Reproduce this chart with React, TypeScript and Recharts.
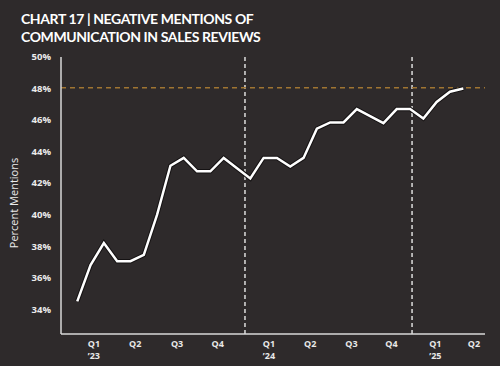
import { LineChart, Line, XAxis, YAxis, ReferenceLine } from 'recharts';

// monthly, Jan 2023 - Jun 2025
const months = [
    'Jan 23', 'Feb 23', 'Mar 23', 'Apr 23', 'May 23', 'Jun 23', 'Jul 23', 'Aug 23', 'Sep 23', 'Oct 23', 'Nov 23', 'Dec 23',
    'Jan 24', 'Feb 24', 'Mar 24', 'Apr 24', 'May 24', 'Jun 24', 'Jul 24', 'Aug 24', 'Sep 24', 'Oct 24', 'Nov 24', 'Dec 24',
    'Jan 25', 'Feb 25', 'Mar 25', 'Apr 25', 'May 25', 'Jun 25',
];
const negativeMentions = [
    34.5, 36.8, 38.2, 37.05, 37.05, 37.45, 40.0, 43.1, 43.6, 42.75, 42.75, 43.6,
    42.95, 42.3, 43.6, 43.6, 43.05, 43.6, 45.45, 45.85, 45.85, 46.7, 46.25, 45.8,
    46.7, 46.7, 46.1, 47.15, 47.8, 48.0,
];

const quarterLabels = ['Q1', 'Q2', 'Q3', 'Q4', 'Q1', 'Q2', 'Q3', 'Q4', 'Q1', 'Q2'];
const yearLabels = ['’23', '', '', '', '’24', '', '', '', '’25', ''];
// where each quarter label sits, in month-index units
const quarterTickPos = [1.25, 4.35, 7.5, 10.55, 14.4, 17.5, 20.6, 23.6, 26.9, 29.8];
const yearBreaks = [12.6, 25.15];
const yTicks = [34, 36, 38, 40, 42, 44, 46, 48, 50];
const latestLevel = 48.05;

const data = months.map((m, i) => ({ idx: i, month: m, value: negativeMentions[i] }));

const BG = '#2e2a2b';
const FONT = '"Open Sans", sans-serif';

const QuarterTick = (props: any) => {
    const { x, y, payload } = props;
    const i = quarterTickPos.indexOf(payload.value);
    return (
        <g transform={`translate(${x},${y})`}>
            <text x={0} y={11} textAnchor="middle" fill="#e8e8e8" fontSize={9} fontWeight={700} fontFamily={FONT}>
                {quarterLabels[i]}
            </text>
            {yearLabels[i] && (
                <text x={0} y={23} textAnchor="middle" fill="#e8e8e8" fontSize={9} fontWeight={700} fontFamily={FONT}>
                    {yearLabels[i]}
                </text>
            )}
        </g>
    );
};

export default function App() {
    return (
        <div style={{ position: 'absolute', left: 0, top: 0, width: 500, height: 366, background: BG, overflow: 'hidden' }}>
            <div
                style={{
                    position: 'absolute',
                    left: 21,
                    top: 10,
                    color: '#ffffff',
                    fontFamily: 'Lato, sans-serif',
                    fontSize: 14,
                    fontWeight: 700,
                    lineHeight: '18px',
                    letterSpacing: '-0.4px',
                }}
            >
                CHART 17 | NEGATIVE MENTIONS OF
                <br />
                COMMUNICATION IN SALES REVIEWS
            </div>

            <div
                style={{
                    position: 'absolute',
                    left: 13,
                    top: 203,
                    transform: 'translate(-50%, -50%) rotate(-90deg)',
                    color: '#ececec',
                    fontFamily: FONT,
                    fontSize: 11,
                    whiteSpace: 'nowrap',
                }}
            >
                Percent Mentions
            </div>

            <LineChart
                width={500}
                height={366}
                data={data}
                margin={{ top: 57, right: 15, bottom: 0, left: 11 }}
                style={{ position: 'absolute', left: 0, top: 0 }}
            >
                <XAxis
                    dataKey="idx"
                    type="number"
                    domain={[-1.22, 30.63]}
                    ticks={quarterTickPos}
                    interval={0}
                    height={32}
                    tickLine={false}
                    tickSize={0}
                    tick={<QuarterTick />}
                    axisLine={{ stroke: '#d8d8d8', strokeWidth: 1.5 }}
                    allowDataOverflow
                />
                <YAxis
                    type="number"
                    domain={[32.43, 50]}
                    ticks={yTicks}
                    width={50}
                    tickLine={false}
                    tickSize={0}
                    tickMargin={10}
                    tickFormatter={(v: number) => `${v}%`}
                    tick={{ fill: '#ececec', fontSize: 9.5, fontWeight: 700, fontFamily: FONT }}
                    axisLine={{ stroke: '#d8d8d8', strokeWidth: 1.5 }}
                    allowDataOverflow
                />
                {yearBreaks.map((x) => (
                    <ReferenceLine key={x} x={x} stroke="#dddddd" strokeWidth={1.5} strokeDasharray="4 3" />
                ))}
                <ReferenceLine y={latestLevel} stroke="#a07532" strokeWidth={1.5} strokeDasharray="5 4" />
                <Line
                    type="linear"
                    dataKey="value"
                    stroke="#151213"
                    strokeWidth={4.5}
                    dot={false}
                    activeDot={false}
                    isAnimationActive={false}
                />
                <Line
                    type="linear"
                    dataKey="value"
                    stroke="#ffffff"
                    strokeWidth={2.5}
                    dot={false}
                    activeDot={false}
                    isAnimationActive={false}
                />
            </LineChart>
        </div>
    );
}
